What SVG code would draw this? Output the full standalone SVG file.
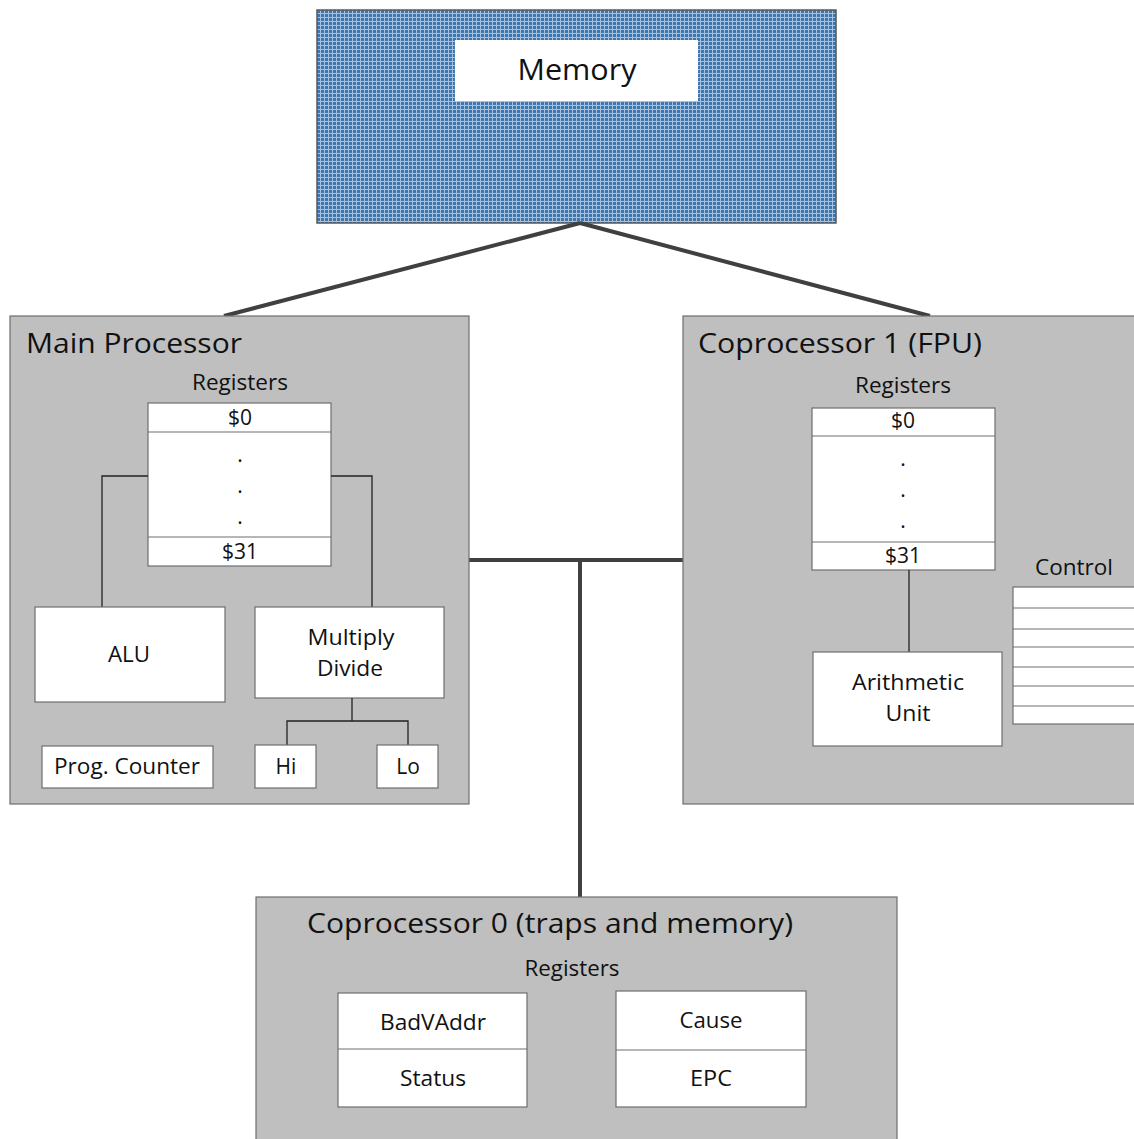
<svg xmlns="http://www.w3.org/2000/svg" width="1134" height="1139" viewBox="0 0 1134 1139">
<defs>
  <pattern id="grid" x="317" y="10" width="4" height="4" patternUnits="userSpaceOnUse">
    <rect width="4" height="4" fill="#a7c2de"/>
    <rect width="3" height="3" fill="#3f76ad"/>
  </pattern>
</defs>
<style>
  text { font-family: "Open Sans", "Liberation Sans", sans-serif; fill: #111; }
  .unit { fill: #bfbfbf; stroke: #6e6e6e; stroke-width: 1.2; }
  .box { fill: #ffffff; stroke: #6e6e6e; stroke-width: 1.2; }
  .thin { fill: none; stroke: #222; stroke-width: 1.3; }
  .div { fill: none; stroke: #6e6e6e; stroke-width: 1.2; }
  .bus { fill: none; stroke: #404040; stroke-width: 4; }
  .title { font-size: 28px; }
  .lbl { font-size: 21px; text-anchor: middle; }
  .dot { font-size: 21px; text-anchor: middle; }
</style>

<g id="memory">
  <rect x="317" y="10" width="519" height="213" fill="url(#grid)" stroke="#595959" stroke-width="1.5"/>
  <rect x="455" y="40" width="243" height="61" fill="#ffffff"/>
  <text x="577" y="80" font-size="29" text-anchor="middle" textLength="119" lengthAdjust="spacingAndGlyphs">Memory</text>
</g>

<g id="connectors">
  <line class="bus" x1="580" y1="223" x2="224" y2="316"/>
  <line class="bus" x1="580" y1="223" x2="930" y2="316"/>
  <line class="bus" x1="469" y1="560" x2="685" y2="560"/>
  <line class="bus" x1="580" y1="560" x2="580" y2="897"/>
</g>

<g id="main-processor">
  <rect class="unit" x="10" y="316" width="459" height="488"/>
  <text class="title" x="26" y="353" textLength="216" lengthAdjust="spacingAndGlyphs">Main Processor</text>
  <text class="lbl" x="240" y="390" textLength="96" lengthAdjust="spacingAndGlyphs">Registers</text>
  <g id="main-registers">
    <rect class="box" x="148" y="403" width="183" height="163"/>
    <line class="div" x1="148" y1="432" x2="331" y2="432"/>
    <line class="div" x1="148" y1="537" x2="331" y2="537"/>
    <text class="lbl" x="240" y="425">$0</text>
    <text class="dot" x="240" y="462">.</text>
    <text class="dot" x="240" y="493">.</text>
    <text class="dot" x="240" y="524">.</text>
    <text class="lbl" x="240" y="559">$31</text>
  </g>
  <polyline class="thin" points="148,476 102,476 102,607"/>
  <polyline class="thin" points="331,476 372,476 372,607"/>
  <g id="alu">
    <rect class="box" x="35" y="607" width="190" height="95"/>
    <text class="lbl" x="129" y="662" textLength="42" lengthAdjust="spacingAndGlyphs">ALU</text>
  </g>
  <g id="multiply-divide">
    <rect class="box" x="255" y="607" width="189" height="91"/>
    <text class="lbl" x="351" y="645" textLength="87" lengthAdjust="spacingAndGlyphs">Multiply</text>
    <text class="lbl" x="350" y="676" textLength="66" lengthAdjust="spacingAndGlyphs">Divide</text>
  </g>
  <polyline class="thin" points="352,698 352,721"/>
  <polyline class="thin" points="287,745 287,721 408,721 408,745"/>
  <g id="prog-counter">
    <rect class="box" x="42" y="746" width="171" height="42"/>
    <text class="lbl" x="127" y="774" textLength="146" lengthAdjust="spacingAndGlyphs">Prog. Counter</text>
  </g>
  <g id="hi">
    <rect class="box" x="255" y="745" width="61" height="43"/>
    <text class="lbl" x="286" y="774">Hi</text>
  </g>
  <g id="lo">
    <rect class="box" x="377" y="745" width="61" height="43"/>
    <text class="lbl" x="408" y="774">Lo</text>
  </g>
</g>

<g id="coprocessor-1">
  <rect class="unit" x="683" y="316" width="460" height="488"/>
  <text class="title" x="698" y="353" textLength="284" lengthAdjust="spacingAndGlyphs">Coprocessor 1 (FPU)</text>
  <text class="lbl" x="903" y="393" textLength="96" lengthAdjust="spacingAndGlyphs">Registers</text>
  <g id="fpu-registers">
    <rect class="box" x="812" y="408" width="183" height="162"/>
    <line class="div" x1="812" y1="436" x2="995" y2="436"/>
    <line class="div" x1="812" y1="542" x2="995" y2="542"/>
    <text class="lbl" x="903" y="428">$0</text>
    <text class="dot" x="903" y="466">.</text>
    <text class="dot" x="903" y="497">.</text>
    <text class="dot" x="903" y="528">.</text>
    <text class="lbl" x="903" y="563">$31</text>
  </g>
  <line class="thin" x1="909" y1="570" x2="909" y2="652"/>
  <g id="arithmetic-unit">
    <rect class="box" x="813" y="652" width="189" height="94"/>
    <text class="lbl" x="908" y="690" textLength="112" lengthAdjust="spacingAndGlyphs">Arithmetic</text>
    <text class="lbl" x="908" y="721" textLength="45" lengthAdjust="spacingAndGlyphs">Unit</text>
  </g>
  <g id="control">
    <text class="lbl" x="1074" y="575" textLength="78" lengthAdjust="spacingAndGlyphs">Control</text>
    <rect class="box" x="1013" y="587" width="130" height="137"/>
    <line class="div" x1="1013" y1="608" x2="1143" y2="608"/>
    <line class="div" x1="1013" y1="629" x2="1143" y2="629"/>
    <line class="div" x1="1013" y1="647" x2="1143" y2="647"/>
    <line class="div" x1="1013" y1="667" x2="1143" y2="667"/>
    <line class="div" x1="1013" y1="686" x2="1143" y2="686"/>
    <line class="div" x1="1013" y1="706" x2="1143" y2="706"/>
  </g>
</g>

<g id="coprocessor-0">
  <rect class="unit" x="256" y="897" width="641" height="250"/>
  <text class="title" x="307" y="933" textLength="486" lengthAdjust="spacingAndGlyphs">Coprocessor 0 (traps and memory)</text>
  <text class="lbl" x="572" y="976" textLength="95" lengthAdjust="spacingAndGlyphs">Registers</text>
  <g id="badvaddr-status">
    <rect class="box" x="338" y="993" width="189" height="114"/>
    <line class="div" x1="338" y1="1049" x2="527" y2="1049"/>
    <text class="lbl" x="433" y="1030" textLength="106" lengthAdjust="spacingAndGlyphs">BadVAddr</text>
    <text class="lbl" x="433" y="1086" textLength="66" lengthAdjust="spacingAndGlyphs">Status</text>
  </g>
  <g id="cause-epc">
    <rect class="box" x="616" y="991" width="190" height="116"/>
    <line class="div" x1="616" y1="1050" x2="806" y2="1050"/>
    <text class="lbl" x="711" y="1028" textLength="63" lengthAdjust="spacingAndGlyphs">Cause</text>
    <text class="lbl" x="711" y="1086" textLength="42" lengthAdjust="spacingAndGlyphs">EPC</text>
  </g>
</g>
</svg>
